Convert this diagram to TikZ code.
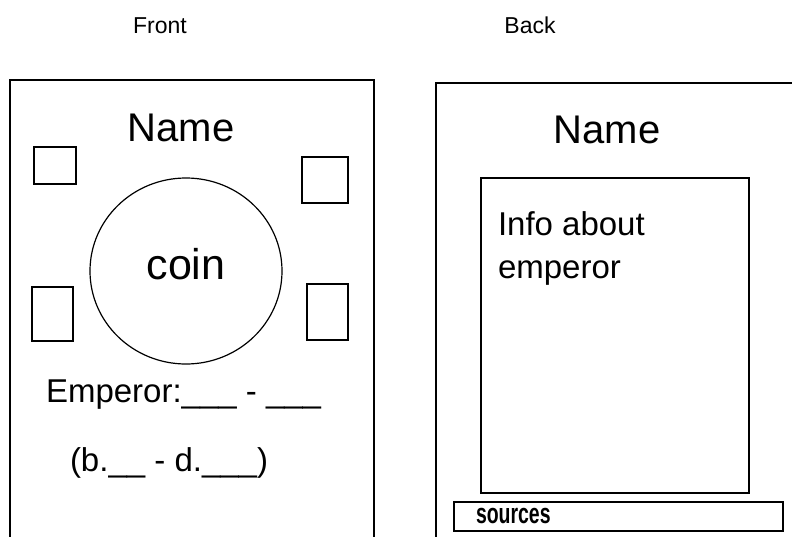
\documentclass[tikz,border=0pt]{standalone}
\usepackage{fontspec}
\setmainfont{Liberation Sans}
\usepackage{graphicx}
\begin{document}
\begin{tikzpicture}[x=1pt,y=-1pt,
  card/.style={draw,line width=1.8pt},
  thin/.style={draw,line width=1.2pt},
  lbl/.style={inner sep=0pt,outer sep=0pt},
]
\clip (0,0) rectangle (792,536);
\fill[white] (0,0) rectangle (792,536);
% headings
\node[lbl,anchor=base,font=\fontsize{23}{27}\selectfont] (fronttitle) at (160,33) {Front};
\node[lbl,anchor=base,font=\fontsize{23}{27}\selectfont] (backtitle) at (530,33) {Back};
% front card
\draw[card] (10,600) -- (10,80) -- (374,80) -- (374,600);
\node[lbl,anchor=base,font=\fontsize{40}{44}\selectfont] (fname) at (181,141) {Name};
\draw[thin] (34,147) rectangle (76,184);
\draw[thin] (302,157) rectangle (348,203);
\draw[thin] (32,287) rectangle (73,341);
\draw[thin] (307,284) rectangle (348,340);
\draw[thin] (186,271) ellipse [x radius=96, y radius=93];
\node[lbl,anchor=base,font=\fontsize{43}{47}\selectfont] (coin) at (186,279) {coin};
\node[lbl,anchor=base west,font=\fontsize{33}{38}\selectfont] (emp) at (46,402) {Emperor:\_\_\_ - \_\_\_};
\node[lbl,anchor=base west,font=\fontsize{33}{38}\selectfont] (bd) at (70,471) {(b.\_\_ - d.\_\_\_)};
% back card
\draw[card] (436,600) -- (436,83) -- (800,83);
\node[lbl,anchor=base,font=\fontsize{40}{44}\selectfont] (bname) at (607,143) {Name};
\draw[card] (481,178) rectangle (749,493);
\node[lbl,anchor=base west,font=\fontsize{33}{38}\selectfont] (info1) at (498,235) {Info about};
\node[lbl,anchor=base west,font=\fontsize{33}{38}\selectfont] (info2) at (498,278) {emperor};
\draw[card] (454,502) rectangle (783,531);
\node[lbl,anchor=base west,font=\fontsize{27}{30}\selectfont\bfseries] (src) at (476,523) {\scalebox{0.72}[1.05]{sources}};
\end{tikzpicture}
\end{document}
